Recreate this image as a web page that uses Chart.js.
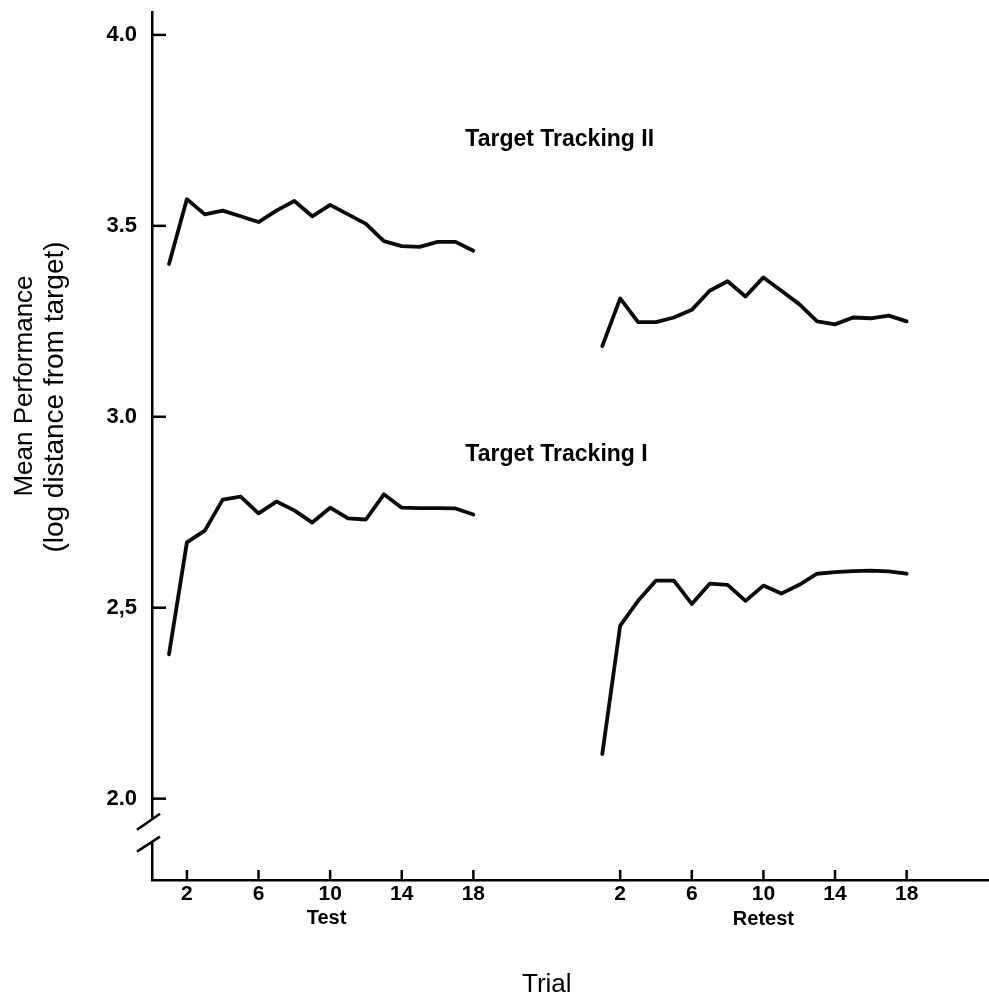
<!DOCTYPE html>
<html><head><meta charset="utf-8">
<script src="https://cdn.jsdelivr.net/npm/chart.js@4"></script>
<style>html,body{margin:0;padding:0;background:#fff}#wrap{width:989px;height:1004px}</style>
</head><body><div id="wrap"><canvas id="c" width="989" height="1004"></canvas></div>
<script>
const TRIALS = [1,2,3,4,5,6,7,8,9,10,11,12,13,14,15,16,17,18];
const TT2_TEST   = [3.40,3.57,3.53,3.54,3.525,3.51,3.54,3.565,3.525,3.555,3.53,3.505,3.46,3.447,3.445,3.458,3.458,3.435];
const TT2_RETEST = [3.185,3.31,3.248,3.248,3.26,3.28,3.33,3.355,3.315,3.365,3.33,3.295,3.25,3.242,3.26,3.258,3.265,3.25];
const TT1_TEST   = [2.378,2.671,2.702,2.783,2.791,2.747,2.778,2.755,2.723,2.762,2.734,2.731,2.797,2.762,2.761,2.761,2.760,2.744];
const TT1_RETEST = [2.117,2.453,2.518,2.571,2.571,2.51,2.563,2.56,2.518,2.558,2.537,2.56,2.589,2.593,2.596,2.597,2.595,2.589];
const X_TICK_TRIALS = [2,6,10,14,18];
const Y_TICKS = [2.0,2.5,3.0,3.5,4.0];
const Y_TICK_LABELS = ['2.0','2,5','3.0','3.5','4.0'];
const SESSION_LABELS = ['Test','Retest'];
const SERIES_LABELS = ['Target Tracking II','Target Tracking I'];
const X_TITLE = 'Trial';
const Y_TITLE = ['Mean Performance','(log distance from target)'];
const RETEST_OFFSET = 24.2;

const FONT = "'Liberation Sans', Arial, Helvetica, sans-serif";
const tickPositions = X_TICK_TRIALS.concat(X_TICK_TRIALS.map(t => t + RETEST_OFFSET));
const tickLabelFor = v => {
  for (const t of X_TICK_TRIALS) {
    if (Math.abs(v - t) < 0.01) return String(t);
    if (Math.abs(v - t - RETEST_OFFSET) < 0.01) return String(t);
  }
  return '';
};
const pts = (arr, off) => TRIALS.map((t, i) => ({x: t + off, y: arr[i]}));
const lineDs = (arr, off) => ({
  data: pts(arr, off), borderColor: '#0a0a0a', borderWidth: 3.8, pointRadius: 0,
  tension: 0, fill: false, borderJoinStyle: 'round', borderCapStyle: 'round'
});

const deco = {
  id: 'deco',
  afterDraw(chart) {
    const {ctx, chartArea: ca, scales: {x, y}} = chart;
    ctx.save();
    ctx.strokeStyle = '#000';
    ctx.lineWidth = 2.5;
    ctx.lineCap = 'butt';
    Y_TICKS.forEach(v => {
      const py = y.getPixelForValue(v);
      ctx.beginPath(); ctx.moveTo(ca.left, py); ctx.lineTo(ca.left + 14, py); ctx.stroke();
    });
    tickPositions.forEach(v => {
      const px = x.getPixelForValue(v);
      ctx.beginPath(); ctx.moveTo(px, ca.bottom); ctx.lineTo(px, ca.bottom - 10); ctx.stroke();
    });
    const y2 = y.getPixelForValue(2.0);
    ctx.fillStyle = '#fff';
    ctx.fillRect(ca.left - 4, y2 + 20, 8, 24);
    ctx.beginPath(); ctx.moveTo(ca.left - 15, y2 + 31); ctx.lineTo(ca.left + 8, y2 + 15); ctx.stroke();
    ctx.beginPath(); ctx.moveTo(ca.left - 15, y2 + 53); ctx.lineTo(ca.left + 8, y2 + 38); ctx.stroke();
    ctx.fillStyle = '#000';
    ctx.textBaseline = 'middle';
    ctx.textAlign = 'left';
    ctx.font = 'bold 23px ' + FONT;
    ctx.fillText(SERIES_LABELS[0], x.getPixelForValue(17.55), y.getPixelForValue(3.725));
    ctx.fillText(SERIES_LABELS[1], x.getPixelForValue(17.55), y.getPixelForValue(2.90));
    ctx.textAlign = 'center';
    ctx.font = 'bold 20px ' + FONT;
    ctx.fillText(SESSION_LABELS[0], x.getPixelForValue(9.8), ca.bottom + 38);
    ctx.fillText(SESSION_LABELS[1], x.getPixelForValue(10 + RETEST_OFFSET), ca.bottom + 39);
    ctx.font = '26px ' + FONT;
    ctx.fillText(X_TITLE, x.getPixelForValue(22.1), ca.bottom + 105);
    ctx.save();
    ctx.translate(25, 386);
    ctx.rotate(-Math.PI / 2);
    ctx.font = '26px ' + FONT;
    ctx.fillText(Y_TITLE[0], 0, 0);
    ctx.restore();
    ctx.save();
    ctx.translate(55, 397);
    ctx.rotate(-Math.PI / 2);
    ctx.font = '28px ' + FONT;
    ctx.fillText(Y_TITLE[1], 0, 0);
    ctx.restore();
    ctx.restore();
  }
};

new Chart(document.getElementById('c'), {
  type: 'line',
  data: { datasets: [lineDs(TT2_TEST, 0), lineDs(TT2_RETEST, RETEST_OFFSET), lineDs(TT1_TEST, 0), lineDs(TT1_RETEST, RETEST_OFFSET)] },
  options: {
    responsive: false, animation: false, devicePixelRatio: 1,
    layout: { padding: { top: 12, right: 0, left: 0, bottom: 0 } },
    plugins: { legend: { display: false }, tooltip: { enabled: false } },
    scales: {
      x: {
        type: 'linear', min: 0.05, max: 46.8,
        grid: { display: false, drawTicks: false },
        border: { display: true, color: '#000', width: 2.5 },
        afterBuildTicks: s => { s.ticks = tickPositions.map(v => ({value: v})); },
        ticks: { color: '#000', padding: 2, font: { family: FONT, size: 21, weight: 'bold' }, maxRotation: 0, autoSkip: false, callback: v => tickLabelFor(v) },
        afterFit: s => { s.height = 124; s.paddingLeft = 0; s.paddingRight = 0; }
      },
      y: {
        type: 'linear', min: 1.787, max: 4.06,
        grid: { display: false, drawTicks: false },
        border: { display: true, color: '#000', width: 2.5 },
        afterBuildTicks: s => { s.ticks = Y_TICKS.map(v => ({value: v})); },
        ticks: { color: '#000', padding: 15, font: { family: FONT, size: 22, weight: 'bold' }, autoSkip: false, callback: v => { const i = Y_TICKS.findIndex(t => Math.abs(t - v) < 1e-6); return i >= 0 ? Y_TICK_LABELS[i] : ''; } },
        afterFit: s => { s.width = 152; s.paddingTop = 0; s.paddingBottom = 0; }
      }
    }
  },
  plugins: [deco]
});
</script></body></html>
